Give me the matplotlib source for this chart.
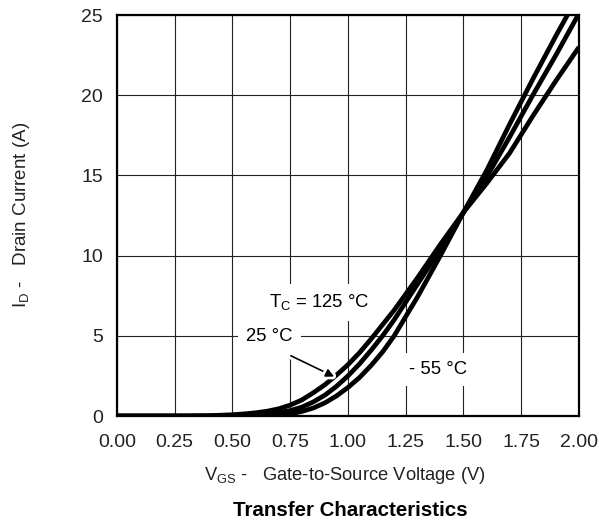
import matplotlib
matplotlib.use("Agg")
import matplotlib.pyplot as plt
import matplotlib.patheffects as pe

plt.rcParams['font.family'] = ['Liberation Sans', 'DejaVu Sans']
plt.rcParams['mathtext.fontset'] = 'custom'
plt.rcParams['mathtext.rm'] = 'Liberation Sans'

# V_GS (V) and I_D (A)
vgs_m55 = [0.0, 0.5, 0.6, 0.7, 0.75, 0.8, 0.85, 0.9, 0.95, 1.0, 1.05, 1.1, 1.15, 1.2,
	1.3, 1.4, 1.5, 1.6, 1.7, 1.8, 1.9, 2.0]
id_m55 = [0.0, 0.0, 0.01, 0.06, 0.13, 0.28, 0.5, 0.82, 1.25, 1.78, 2.4, 3.15, 4.0, 5.0,
	7.4, 10.0, 12.7, 15.3, 18.2, 21.0, 23.7, 26.3]

vgs_25 = [0.0, 0.4, 0.5, 0.6, 0.65, 0.7, 0.75, 0.8, 0.85, 0.9, 0.95, 1.0, 1.05, 1.1, 1.15, 1.2,
	1.3, 1.4, 1.5, 1.6, 1.7, 1.8, 1.9, 2.0]
id_25 = [0.0, 0.0, 0.02, 0.08, 0.14, 0.22, 0.34, 0.55, 0.88, 1.3, 1.85, 2.5, 3.25, 4.1, 5.0, 6.0,
	8.2, 10.4, 12.7, 14.9, 17.4, 20.0, 22.5, 25.1]

vgs_125 = [0.0, 0.3, 0.4, 0.5, 0.55, 0.6, 0.65, 0.7, 0.75, 0.8, 0.85, 0.9, 0.95, 1.0, 1.05, 1.1,
	1.15, 1.2, 1.3, 1.4, 1.5, 1.6, 1.7, 1.8, 1.9, 2.0]
id_125 = [0.0, 0.0, 0.02, 0.08, 0.13, 0.2, 0.3, 0.45, 0.68, 1.0, 1.45, 1.95, 2.55, 3.2, 3.95, 4.8,
	5.7, 6.6, 8.6, 10.7, 12.7, 14.5, 16.4, 18.7, 20.9, 23.0]

x_ticks = [0.0, 0.25, 0.5, 0.75, 1.0, 1.25, 1.5, 1.75, 2.0]
y_ticks = [0, 5, 10, 15, 20, 25]

fig = plt.figure(figsize=(5.99, 5.29), dpi=100)
ax = fig.add_axes([0.1953, 0.2136, 0.7713, 0.758])

for v, i in [(vgs_m55, id_m55), (vgs_25, id_25), (vgs_125, id_125)]:
	ax.plot(v, i, color='black', lw=3.4, solid_capstyle='butt', solid_joinstyle='round', zorder=3)

ax.set_xlim(0, 2)
ax.set_ylim(0, 25)
ax.set_xticks(x_ticks)
ax.set_xticklabels(['%.2f' % t for t in x_ticks])
ax.set_yticks(y_ticks)
ax.tick_params(length=0, labelsize=14, colors='#222222')
ax.tick_params(axis='x', pad=13)
ax.tick_params(axis='y', pad=10)
ax.grid(True, color='#222222', lw=0.8, zorder=1)
ax.set_axisbelow(True)
for s in ax.spines.values():
	s.set_linewidth(1.6)

box = dict(boxstyle='square,pad=0.45', fc='white', ec='none')
ax.text(0.874, 7.08, r'T$_\mathregular{C}$ = 125 °C', fontsize=13.3, ha='center', va='center', bbox=box, zorder=4)
ax.text(0.66, 4.95, '25 °C', fontsize=13.3, ha='center', va='center', bbox=box, zorder=4)
ax.text(1.392, 2.9, '- 55 °C', fontsize=13.3, ha='center', va='center', bbox=box, zorder=4)

ax.annotate('', xy=(0.951, 2.38), xytext=(0.742, 3.83),
	arrowprops=dict(arrowstyle='-|>', color='black', lw=1.2, mutation_scale=12,
		path_effects=[pe.withStroke(linewidth=5, foreground='white')]), zorder=5)

fig.text(0.575, 1 - 475 / 529, r'V$_\mathregular{GS}$ -   Gate-to-Source Voltage (V)', fontsize=13.2,
	ha='center', va='center', color='#222222')
fig.text(0.584, 1 - 510 / 529, 'Transfer Characteristics', fontsize=14.8, fontweight='bold',
	ha='center', va='center')
fig.text(22 / 599, 1 - 215 / 529, r'I$_\mathregular{D}$ -   Drain Current (A)', fontsize=13.5,
	rotation=90, ha='center', va='center', color='#222222')

fig.savefig('out.png', dpi=100)
